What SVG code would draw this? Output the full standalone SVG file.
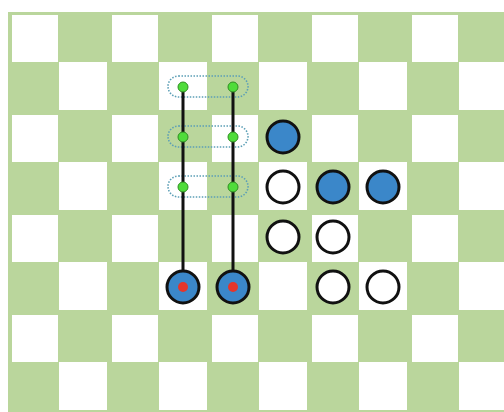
<svg xmlns="http://www.w3.org/2000/svg" width="504" height="412" viewBox="0 0 504 412">
<defs>
<style>
.pc{stroke:#111;stroke-width:3}
.blue{fill:#3b87c9}
.white{fill:#fff}
.red{fill:#e5352b}
.gd{fill:#4fdc3a;stroke:#2f8f22;stroke-width:1}
.loop{fill:none;stroke:#5c9fb6;stroke-width:1.6;stroke-dasharray:1.5 1.5}
.wire{stroke:#111;stroke-width:3}
</style>
<pattern id="board" x="8" y="12" width="100" height="100" patternUnits="userSpaceOnUse">
<rect x="0" y="0" width="100" height="100" fill="#bad69c"/>
<rect x="4" y="3" width="46" height="47" fill="#fff"/>
<rect x="51" y="50" width="48" height="48" fill="#fff"/>
</pattern>
</defs>
<rect width="504" height="412" fill="#fff"/>
<rect id="board-bg" x="8" y="12" width="496" height="400" fill="url(#board)"/>
<g id="loops">
<rect class="loop" x="168" y="76" width="80" height="21" rx="10.5"/>
<rect class="loop" x="168" y="126" width="80" height="21" rx="10.5"/>
<rect class="loop" x="168" y="176" width="80" height="21" rx="10.5"/>
</g>
<g id="connectors">
<line class="wire" x1="183" y1="87" x2="183" y2="287"/>
<line class="wire" x1="233" y1="87" x2="233" y2="287"/>
</g>
<g id="g1"><circle class="gd" cx="183" cy="87" r="5"/></g>
<g id="g2"><circle class="gd" cx="233" cy="87" r="5"/></g>
<g id="g3"><circle class="gd" cx="183" cy="137" r="5"/></g>
<g id="g4"><circle class="gd" cx="233" cy="137" r="5"/></g>
<g id="g5"><circle class="gd" cx="183" cy="187" r="5"/></g>
<g id="g6"><circle class="gd" cx="233" cy="187" r="5"/></g>
<g id="b1"><circle class="pc blue" cx="283" cy="137" r="16"/></g>
<g id="w1"><circle class="pc white" cx="283" cy="187" r="16"/></g>
<g id="b2"><circle class="pc blue" cx="333" cy="187" r="16"/></g>
<g id="b3"><circle class="pc blue" cx="383" cy="187" r="16"/></g>
<g id="w2"><circle class="pc white" cx="283" cy="237" r="16"/></g>
<g id="w3"><circle class="pc white" cx="333" cy="237" r="16"/></g>
<g id="br1"><circle class="pc blue" cx="183" cy="287" r="16"/><circle class="red" cx="183" cy="287" r="5"/></g>
<g id="br2"><circle class="pc blue" cx="233" cy="287" r="16"/><circle class="red" cx="233" cy="287" r="5"/></g>
<g id="w4"><circle class="pc white" cx="333" cy="287" r="16"/></g>
<g id="w5"><circle class="pc white" cx="383" cy="287" r="16"/></g>
</svg>
